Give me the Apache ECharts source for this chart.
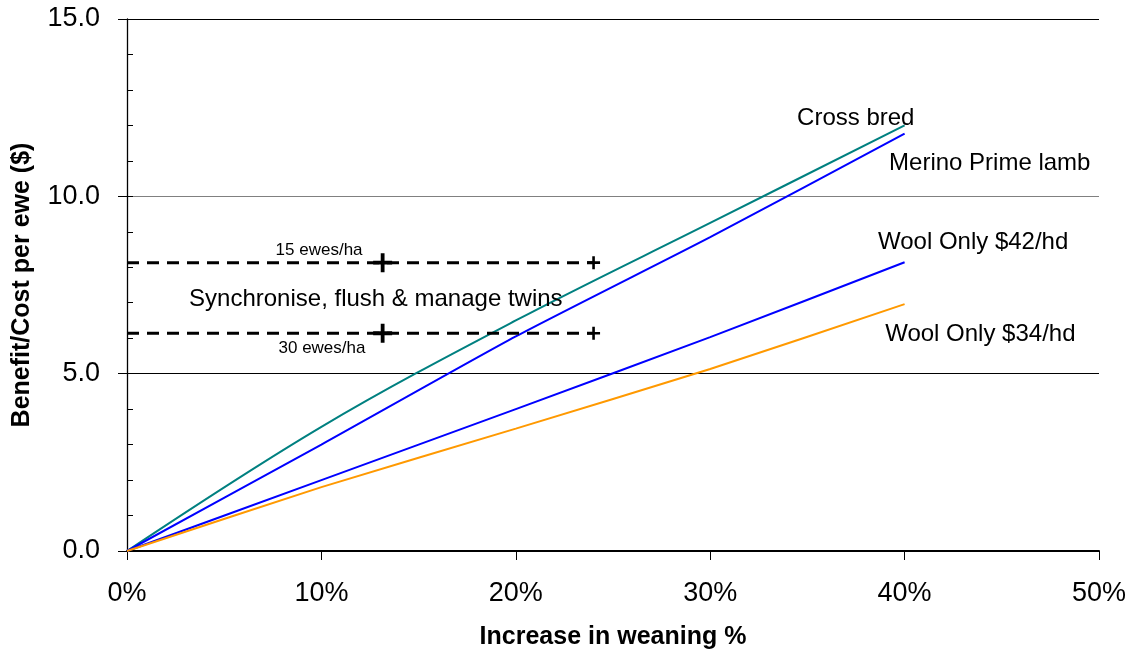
<!DOCTYPE html>
<html>
<head>
<meta charset="utf-8">
<script src="https://cdn.jsdelivr.net/npm/echarts@6/dist/echarts.min.js"></script>
<style>
html,body{margin:0;padding:0;background:#fff;}
#chart{width:1136px;height:655px;}
</style>
</head>
<body>
<div id="chart"></div>
<script>
// ---- data ----
const weaningPct = [0, 10, 20, 30, 40];
const crossBred = [0, 3.5, 6.5, 9.25, 12.0];
const merinoPrimeLamb = [0, 3.0, 6.05, 8.85, 11.77];
const woolOnly42 = [0, 2.0, 4.0, 6.03, 8.14];
const woolOnly34 = [0, 1.8, 3.45, 5.13, 6.96];
const densityLabels = ['15 ewes/ha', '30 ewes/ha'];
const densityLevels = [8.13, 6.14];
const densityMarkX = [0, 13.15, 24];
const xTicks = [0, 10, 20, 30, 40, 50];
const yTicks = [0, 5, 10, 15];

const FONT = "'Liberation Sans', Arial, Helvetica, sans-serif";
const PLUS = 'path://M0,4H4V0H6V4H10V6H6V10H4V6H0Z';

function pairs(xs, ys) { return xs.map((x, i) => [x, ys[i]]); }

function lineSeries(name, ys, color, smooth) {
  return {
    name: name, type: 'line', data: pairs(weaningPct, ys),
    symbol: 'none', smooth: smooth, silent: true,
    lineStyle: { color: color, width: 2 }, z: 3
  };
}

function densitySeries(level) {
  return {
    type: 'line', silent: true, z: 4,
    data: densityMarkX.map((x, i) => ({
      value: [x, level],
      symbol: i === 0 ? 'none' : PLUS,
      symbolSize: i === 1 ? 19 : 13
    })),
    itemStyle: { color: '#000' },
    lineStyle: { color: '#000', width: 3, type: [12, 8] }
  };
}

function ann(text, x, y, align, size) {
  return {
    value: [x, y],
    label: { show: true, formatter: text, align: align, verticalAlign: 'middle',
      position: 'inside', fontSize: size, color: '#000', opacity: 1,
      textBorderWidth: 0, fontFamily: FONT }
  };
}

const chart = echarts.init(document.getElementById('chart'), null, { renderer: 'canvas' });

const option = {
  animation: false,
  backgroundColor: '#fff',
  grid: { left: 127, right: 37, top: 19, bottom: 102.5, containLabel: false },
  xAxis: {
    type: 'value', min: xTicks[0], max: xTicks[xTicks.length - 1], interval: 10,
    name: 'Increase in weaning %', nameLocation: 'middle', nameGap: 74,
    nameTextStyle: { fontSize: 25, fontWeight: 'bold', color: '#000', fontFamily: FONT },
    axisLine: { show: true, onZero: false, lineStyle: { color: '#000', width: 2 } },
    axisTick: { show: true, length: 9, lineStyle: { color: '#000', width: 1 } },
    axisLabel: { formatter: '{value}%', fontSize: 27, color: '#000', margin: 29, fontFamily: FONT },
    splitLine: { show: false }
  },
  yAxis: [{
    type: 'value', position: 'left', min: yTicks[0], max: yTicks[yTicks.length - 1], interval: 5,
    name: 'Benefit/Cost per ewe ($)', nameLocation: 'middle', nameGap: 92, nameRotate: 90,
    nameTextStyle: { fontSize: 25, fontWeight: 'bold', color: '#000', fontFamily: FONT },
    axisLine: { show: true, lineStyle: { color: '#000', width: 1.3 } },
    axisTick: { show: true, length: 9, lineStyle: { color: '#000', width: 1 } },
    axisLabel: { formatter: v => v.toFixed(1), fontSize: 27, color: '#000', margin: 27, fontFamily: FONT },
    splitLine: { show: true, lineStyle: { color: ['#000', '#000', '#808080', '#000'], width: 1 } }
  }, {
    type: 'value', position: 'left', min: yTicks[0], max: yTicks[yTicks.length - 1], interval: 1,
    axisLine: { show: false },
    axisTick: { show: true, inside: true, length: 6, lineStyle: { color: '#000', width: 1 } },
    axisLabel: { show: false },
    splitLine: { show: false }
  }],
  series: [
    lineSeries('Cross bred', crossBred, '#008080', 0.35),
    lineSeries('Merino Prime lamb', merinoPrimeLamb, '#0000FF', 0.2),
    lineSeries('Wool Only $42/hd', woolOnly42, '#0000FF', 0.2),
    lineSeries('Wool Only $34/hd', woolOnly34, '#FF9900', 0.2),
    densitySeries(densityLevels[0]),
    densitySeries(densityLevels[1]),
    {
      type: 'scatter', silent: true, symbolSize: 0, z: 5,
      itemStyle: { color: '#000', opacity: 1 },
      data: [
        ann('Cross bred', 34.47, 12.2, 'left', 24),
        ann('Merino Prime lamb', 39.2, 10.94, 'left', 24),
        ann('Wool Only $42/hd', 38.63, 8.69, 'left', 24),
        ann('Wool Only $34/hd', 39.0, 6.11, 'left', 24),
        ann(densityLabels[0], 9.88, 8.47, 'center', 17),
        ann(densityLabels[1], 10.03, 5.72, 'center', 17),
        ann('Synchronise, flush & manage twins', 12.8, 7.09, 'center', 24)
      ]
    }
  ]
};
chart.setOption(option);
</script>
</body>
</html>
